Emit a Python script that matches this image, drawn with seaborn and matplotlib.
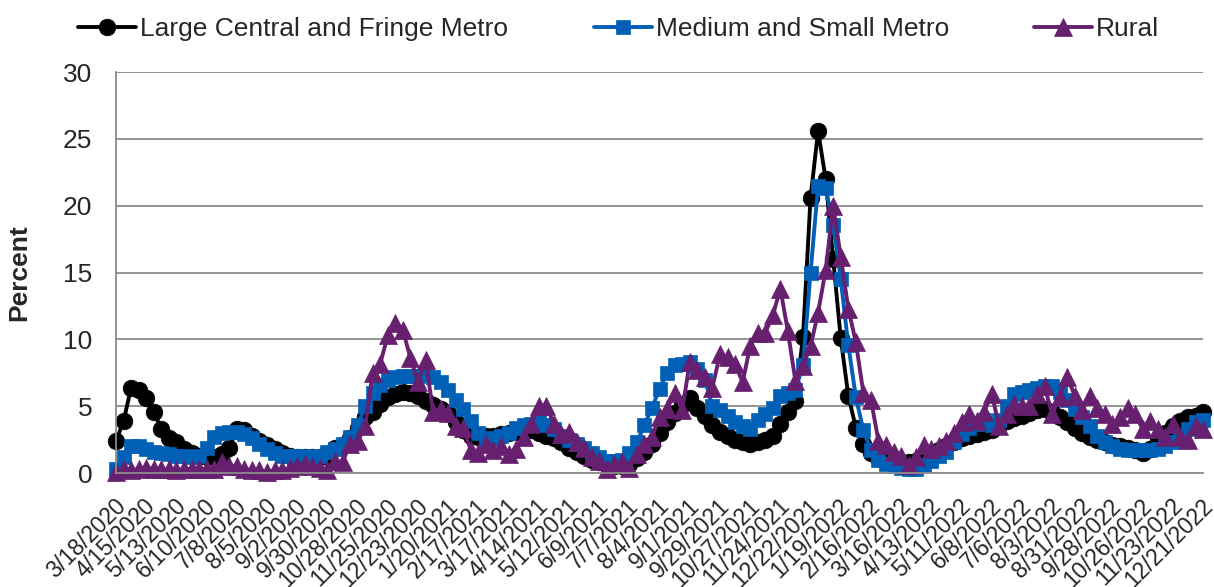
import numpy as np
import pandas as pd
import matplotlib
matplotlib.use("Agg")
import matplotlib.pyplot as plt
import matplotlib.transforms as mtransforms
import seaborn as sns

# weekly percent by urbanization level, 3/18/2020 .. 12/21/2022
tick_labels = [
    "3/18/2020", "4/15/2020", "5/13/2020", "6/10/2020", "7/8/2020", "8/5/2020",
    "9/2/2020", "9/30/2020", "10/28/2020", "11/25/2020", "12/23/2020", "1/20/2021",
    "2/17/2021", "3/17/2021", "4/14/2021", "5/12/2021", "6/9/2021", "7/7/2021",
    "8/4/2021", "9/1/2021", "9/29/2021", "10/27/2021", "11/24/2021", "12/22/2021",
    "1/19/2022", "2/16/2022", "3/16/2022", "4/13/2022", "5/11/2022", "6/8/2022",
    "7/6/2022", "8/3/2022", "8/31/2022", "9/28/2022", "10/26/2022", "11/23/2022",
    "12/21/2022",
]

large_metro = [
    2.4, 3.9, 6.4, 6.2, 5.6, 4.6, 3.3, 2.6, 2.3, 1.8,
    1.5, 1.3, 1.2, 1.2, 1.4, 1.9, 3.3, 3.2, 2.8, 2.4,
    2.1, 1.8, 1.5, 1.3, 1.2, 1.2, 1.2, 1.2, 1.3,
    1.9, 2.1, 2.6, 3.4, 4.2, 4.6, 5.2, 5.7, 5.9, 6.1,
    6.0, 5.8, 5.4, 5.1, 4.8, 4.5, 3.8, 3.2, 2.8, 2.7,
    2.8, 2.8, 2.9, 3.0, 3.1, 3.2, 3.2, 3.0, 2.8,
    2.6, 2.3, 1.9, 1.6, 1.3, 1.0, 0.8, 0.6, 0.5, 0.5,
    0.7, 1.1, 1.6, 2.2, 3.0, 3.8, 4.5, 5.1, 5.6, 4.9,
    4.3, 3.6, 3.1, 2.8, 2.5, 2.3, 2.2, 2.3, 2.5, 2.8,
    3.7, 4.6, 5.4, 10.2, 20.6, 25.6, 22.0, 16.0, 10.1, 5.8,
    3.4, 2.2, 1.5, 1.1, 0.9, 0.8, 0.8, 0.8, 0.9, 1.2,
    1.4, 1.7, 2.0, 2.3, 2.6, 2.8, 2.9, 3.1,
    3.2, 3.6, 3.9, 4.1, 4.3, 4.5, 4.7, 4.8, 4.6, 4.2,
    3.8, 3.4, 3.0, 2.7, 2.5, 2.3, 2.1, 2.0, 1.9, 1.7,
    1.5, 1.8, 2.4, 3.0, 3.5, 3.9, 4.2, 4.3, 4.6,
]

medium_metro = [
    0.3, 1.2, 2.0, 2.0, 1.8, 1.6, 1.5, 1.4, 1.3, 1.3,
    1.2, 1.3, 1.9, 2.7, 3.0, 3.1, 3.1, 2.9, 2.6, 2.2,
    1.8, 1.5, 1.3, 1.3, 1.3, 1.3, 1.2, 1.3, 1.6,
    1.8, 2.2, 2.7, 3.6, 5.0, 6.0, 6.6, 7.0, 7.2, 7.3,
    7.3, 7.3, 7.4, 7.2, 6.8, 6.2, 5.5, 4.8, 3.9, 3.0,
    2.5, 2.6, 2.8, 3.0, 3.4, 3.6, 3.7, 3.8, 3.6,
    3.3, 2.8, 2.5, 2.2, 1.9, 1.5, 1.2, 0.9, 0.9, 1.0,
    1.5, 2.3, 3.6, 4.9, 6.3, 7.5, 8.1, 8.2, 8.3, 7.8,
    7.0, 5.0, 4.7, 4.3, 3.8, 3.5, 3.3, 4.0, 4.4, 4.9,
    5.8, 6.0, 6.2, 8.1, 15.0, 21.5, 21.3, 18.6, 14.5, 9.6,
    5.7, 3.2, 1.7, 1.0, 0.7, 0.5, 0.4, 0.3, 0.3, 0.6,
    0.9, 1.3, 1.6, 2.3, 2.9, 3.4, 3.7, 4.0,
    3.6, 4.0, 5.0, 5.9, 6.1, 6.2, 6.4, 6.5, 6.5, 6.1,
    5.5, 4.8, 4.2, 3.5, 2.8, 2.3, 2.0, 1.8, 1.7, 1.7,
    1.7, 1.7, 1.8, 2.0, 2.3, 2.8, 3.3, 3.8, 4.0,
]

rural = [
    0.1, 0.3, 0.2, 0.3, 0.4, 0.3, 0.3, 0.3, 0.2, 0.3,
    0.3, 0.3, 0.3, 0.3, 0.8, 0.5, 0.5, 0.3, 0.2, 0.2,
    0.1, 0.2, 0.2, 0.4, 0.5, 0.7, 0.5, 0.4, 0.2,
    0.9, 0.8, 2.2, 2.4, 3.5, 7.5, 8.2, 10.3, 11.2, 10.7,
    8.6, 6.8, 8.5, 4.6, 4.8, 4.5, 3.5, 3.4, 1.7, 1.5,
    2.2, 1.7, 2.0, 1.4, 1.8, 2.7, 3.7, 5.0, 5.0,
    3.7, 2.9, 3.1, 2.3, 1.9, 1.2, 0.9, 0.3, 0.7, 0.8,
    0.4, 1.4, 2.2, 2.7, 4.2, 4.8, 6.0, 4.7, 8.3, 7.7,
    7.2, 6.4, 8.9, 8.7, 8.2, 6.8, 9.5, 10.5, 10.5, 11.8,
    13.8, 10.6, 6.9, 8.0, 9.5, 12.0, 15.2, 20.0, 16.2, 12.3,
    9.8, 6.0, 5.5, 2.4, 2.1, 1.6, 1.3, 0.6, 1.2, 2.1,
    1.8, 2.0, 2.4, 3.0, 3.8, 4.4, 3.9, 4.6,
    5.9, 3.5, 4.4, 5.2, 5.0, 5.0, 5.9, 6.5, 4.4, 5.7,
    7.2, 5.8, 4.7, 5.8, 4.9, 4.4, 3.7, 4.2, 4.9, 4.4,
    3.3, 3.9, 3.3, 2.7, 3.7, 2.7, 2.5, 3.5, 3.3,
]

series_names = ["Large Central and Fringe Metro", "Medium and Small Metro", "Rural"]
colors = ["#000000", "#0060B6", "#66206F"]
markers = ["o", "s", "^"]
marker_sizes = [12, 10.5, 13]

weeks = np.arange(len(large_metro))
df = pd.DataFrame({
    "week": weeks,
    series_names[0]: large_metro,
    series_names[1]: medium_metro,
    series_names[2]: rural,
}).melt(id_vars="week", var_name="group", value_name="percent")

sns.set_style("white")
plt.rcParams["font.family"] = ["Liberation Sans", "DejaVu Sans"]
fs = 19
grid_gray = "#8c8c8c"

fig = plt.figure(figsize=(12.14, 5.87), dpi=100)
ax = fig.add_axes([0.0956, 0.194, 0.8954, 0.6831])

for name, col, mk, ms in zip(series_names, colors, markers, marker_sizes):
    sub = df[df["group"] == name]
    sns.lineplot(data=sub, x="week", y="percent", ax=ax, color=col, marker=mk,
                 markersize=ms, linewidth=2.8, markeredgecolor=col,
                 markeredgewidth=0.5, label=name, clip_on=False)

ax.set_xlim(0, len(large_metro) - 1)
ax.set_ylim(0, 30)
ax.set_yticks(range(0, 31, 5))
ax.yaxis.grid(True, color=grid_gray, linewidth=1.3)
ax.xaxis.grid(False)
ax.set_axisbelow(True)
ax.set_xticks(weeks[::4])
ax.set_xticklabels(tick_labels, rotation=45, ha="right", va="center",
                   rotation_mode="anchor")
ax.tick_params(axis="both", labelsize=fs, length=6, width=1.3,
               color=grid_gray, direction="out")
ax.tick_params(axis="x", labelsize=16.5, pad=15)
ax.tick_params(axis="y", pad=11)
shift = mtransforms.ScaledTranslation(6 / 100, 0, fig.dpi_scale_trans)
for lab in ax.get_xticklabels():
    lab.set_transform(lab.get_transform() + shift)

for side in ["top", "right"]:
    ax.spines[side].set_visible(False)
for side in ["left", "bottom"]:
    ax.spines[side].set_color(grid_gray)
    ax.spines[side].set_linewidth(1.3)
ax.set_xlabel("")
ax.set_ylabel("")

fig.text(19 / 1214, 0.536, "Percent", rotation=90, ha="center", va="center",
         fontsize=fs, fontweight="bold")

handles, labels = ax.get_legend_handles_labels()
ax.get_legend().remove()
anchors = [78 / 1214, 594 / 1214, 1034 / 1214]
for h, l, xa in zip(handles, labels, anchors):
    fig.legend([h], [l], loc="center left", bbox_to_anchor=(xa, 0.951),
               frameon=False, fontsize=fs, handlelength=2.18,
               handletextpad=0.17, borderpad=0, borderaxespad=0, numpoints=1)

fig.savefig("out.png", dpi=100)
